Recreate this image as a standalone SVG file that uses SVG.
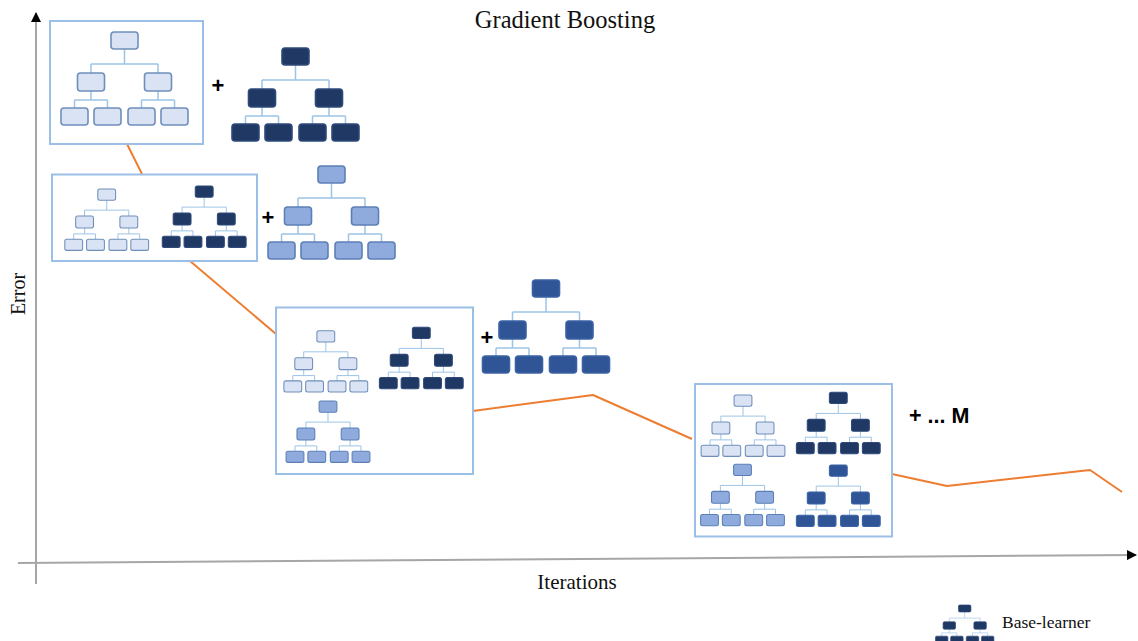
<svg xmlns="http://www.w3.org/2000/svg" xmlns:xlink="http://www.w3.org/1999/xlink" width="1138" height="641" viewBox="0 0 1138 641">
<style>
.serif{font-family:"Liberation Serif","Times New Roman",serif;fill:#111}
.plus{font-family:"Liberation Sans",Arial,sans-serif;font-weight:bold;fill:#000}
.box{fill:#fff;stroke:#9bbfe6;stroke-width:2}
.axis{stroke:#a6a6a6;stroke-width:2;fill:none}
.err{stroke:#ed7d31;stroke-width:2;fill:none;stroke-linejoin:round}
.t-light{fill:#dae3f3;stroke:#6f8fbb}
.t-dark{fill:#1f3864;stroke:#2f4a7a}
.t-med{fill:#8faadc;stroke:#5c80b6}
.t-mdark{fill:#2f5597;stroke:#3a62a4}
</style>
<defs>
<marker id="arr" viewBox="0 0 10 10" refX="9" refY="5" markerWidth="5" markerHeight="5" orient="auto" markerUnits="strokeWidth">
<path d="M0,0 L10,5 L0,10 z" fill="#000"/>
</marker>
<g id="tree" stroke-width="1.6">
<path d="M0,17 V32 M-33.5,32 H33.5 M-33.5,32 V41 M33.5,32 V41 M-33.5,59 V68 M-50,68 H-17 M-50,68 V76 M-17,68 V76 M33.5,59 V68 M17,68 H50 M17,68 V76 M50,68 V76" fill="none" stroke="#9dc3e6" stroke-width="1.5"/>
<rect x="-13.5" y="0" width="27" height="17" rx="3"/>
<rect x="-47" y="41" width="27" height="18" rx="3"/>
<rect x="20" y="41" width="27" height="18" rx="3"/>
<rect x="-63.5" y="76" width="27" height="17" rx="3"/>
<rect x="-30.5" y="76" width="27" height="17" rx="3"/>
<rect x="3.5" y="76" width="27" height="17" rx="3"/>
<rect x="36.5" y="76" width="27" height="17" rx="3"/>
</g>
</defs>
<rect width="1138" height="641" fill="#fff"/>

<g id="axes">
<line class="axis" x1="36" y1="584" x2="36" y2="13" marker-end="url(#arr)"/>
<line class="axis" x1="18" y1="563" x2="1136" y2="555" marker-end="url(#arr)"/>
</g>

<g id="connectors">
<polyline class="err" points="127,144 142,174"/>
<polyline class="err" points="190,261 276,334"/>
<polyline class="err" points="473,411 593,395 692,439"/>
<polyline class="err" points="892,474 947,486 1090,470 1122,492"/>
</g>

<text class="serif" x="565" y="28" font-size="24.5" text-anchor="middle">Gradient Boosting</text>
<text class="serif" x="25" y="294" font-size="20" text-anchor="middle" transform="rotate(-90 25 294)">Error</text>
<text class="serif" x="577" y="589" font-size="21" text-anchor="middle">Iterations</text>

<g id="stage1">
<rect class="box" x="50" y="21" width="153" height="123"/>
<use xlink:href="#tree" class="t-light" transform="translate(124.5,32)"/>
</g>
<g id="add1">
<text class="plus" x="218" y="85" font-size="22" text-anchor="middle" dominant-baseline="central">+</text>
<use xlink:href="#tree" class="t-dark" transform="translate(295.5,48)"/>
</g>

<g id="stage2">
<rect class="box" x="52" y="174.5" width="205" height="86.5"/>
<use xlink:href="#tree" class="t-light" transform="translate(106.7,189) scale(0.66)"/>
<use xlink:href="#tree" class="t-dark" transform="translate(204.2,186) scale(0.66)"/>
</g>
<g id="add2">
<text class="plus" x="268" y="217" font-size="22" text-anchor="middle" dominant-baseline="central">+</text>
<use xlink:href="#tree" class="t-med" transform="translate(331.5,166)"/>
</g>

<g id="stage3">
<rect class="box" x="276" y="307.5" width="197" height="166.5"/>
<use xlink:href="#tree" class="t-light" transform="translate(325.8,330.7) scale(0.66)"/>
<use xlink:href="#tree" class="t-dark" transform="translate(421.3,327.3) scale(0.66)"/>
<use xlink:href="#tree" class="t-med" transform="translate(328,401) scale(0.66)"/>
</g>
<g id="add3">
<text class="plus" x="487" y="337" font-size="22" text-anchor="middle" dominant-baseline="central">+</text>
<use xlink:href="#tree" class="t-mdark" transform="translate(546,280)"/>
</g>

<g id="stage4">
<rect class="box" x="695" y="384" width="197" height="152.5"/>
<use xlink:href="#tree" class="t-light" transform="translate(743,395) scale(0.66)"/>
<use xlink:href="#tree" class="t-dark" transform="translate(838.3,392.3) scale(0.66)"/>
<use xlink:href="#tree" class="t-med" transform="translate(742.5,464.3) scale(0.66)"/>
<use xlink:href="#tree" class="t-mdark" transform="translate(838.3,465) scale(0.66)"/>
</g>
<g id="addM">
<text class="plus" x="909" y="423" font-size="21.5">+ ... M</text>
</g>

<g id="legend">
<use xlink:href="#tree" class="t-dark" transform="translate(964.7,605) scale(0.46,0.41)"/>
<text class="serif" x="1002" y="628" font-size="17.5">Base-learner</text>
</g>
</svg>
